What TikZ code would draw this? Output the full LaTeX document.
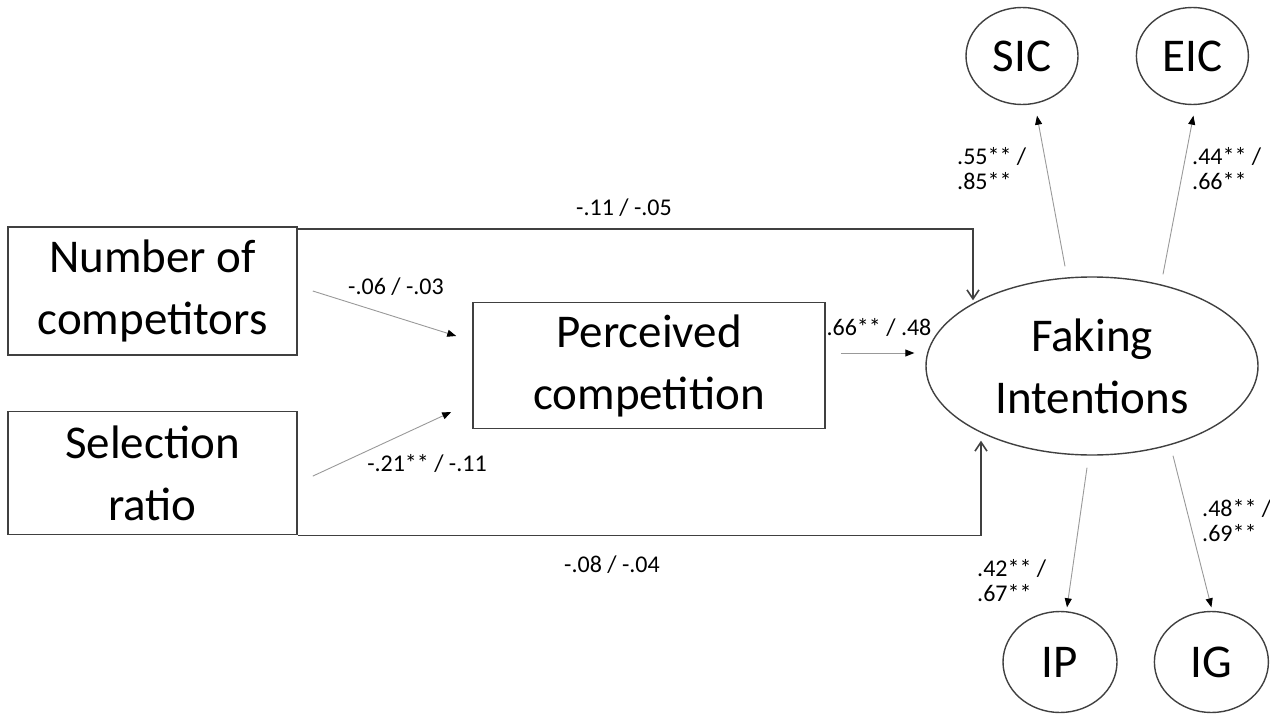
\documentclass[tikz,border=0pt]{standalone}
\usepackage{fontspec}
\setmainfont{Carlito}
\usetikzlibrary{arrows.meta,positioning,shapes.geometric}

\begin{document}
\begin{tikzpicture}[
  x=1pt, y=-1pt,
  big/.style={font=\fontsize{47}{62}\selectfont},
  lab/.style={font=\fontsize{24}{25}\selectfont, inner sep=0pt, align=left},
  box/.style={draw=black!75, line width=1.6pt, big, align=center, inner sep=0pt},
  lat/.style={ellipse, draw=black!75, line width=1.4pt, big, align=center, inner sep=0pt},
  path/.style={draw=black!40, line width=0.9pt, -{Triangle[length=9pt,width=7pt,black]}},
  elbow/.style={draw=black!75, line width=1.6pt, -{Straight Barb[length=9pt,width=12pt]}}
]
\useasboundingbox (0,0) rectangle (1270,717);
% observed variables
\node[box, minimum width=289pt, minimum height=128pt] (num) at (152.5,291) {Number of\\competitors};
\node[box, minimum width=289pt, minimum height=123pt, below=55pt of num] (sel) {Selection\\ratio};
\node[box, minimum width=352pt, minimum height=126pt] (perc) at (649,365.5) {Perceived\\competition};
% latent factor and its indicators
\node[lat, minimum width=332pt, minimum height=178pt] (fake) at (1092,366) {Faking\\Intentions};
\node[lat, minimum width=112pt, minimum height=97pt] (sic) at (1022,56) {SIC};
\node[lat, minimum width=112pt, minimum height=97pt, right=57pt of sic] (eic) {EIC};
\node[lat, minimum width=114pt, minimum height=101pt] (ip) at (1060,662) {IP};
\node[lat, minimum width=114pt, minimum height=101pt, right=36pt of ip] (ig) {IG};
% direct paths
\draw[elbow] ([shift={(0,3)}]num.north east) -| ([shift={(-119,24)}]fake.north);
\draw[elbow] (sel.south east) -| ([shift={(-111,-15)}]fake.south);
\draw[path] ([shift={(15,0)}]num.east) -- ([shift={(-16,-29.5)}]perc.west);
\draw[path] ([shift={(15,3)}]sel.east) -- ([shift={(-21,46.5)}]perc.west);
\draw[path] ([shift={(15,-12.5)}]perc.east) -- ([shift={(-11,-13)}]fake.west);
% loadings
\draw[path] ([shift={(-27,-10)}]fake.north) -- ([shift={(15,10.5)}]sic.south);
\draw[path] ([shift={(71,-2)}]fake.north) -- ([shift={(1,10.5)}]eic.south);
\draw[path] ([shift={(-5,12)}]fake.south) -- ([shift={(7,-3.5)}]ip.north);
\draw[path] ([shift={(81,0)}]fake.south) -- ([shift={(0,-3.5)}]ig.north);
% coefficients
\node[lab] (bnum) at (624,208) {-.11 / -.05};
\node[lab] (bsel) at (612,565) {-.08 / -.04};
\node[lab] (anum) at (396,287) {-.06 / -.03};
\node[lab] (asel) at (427,463) {-.21** / -.11};
\node[lab] (bperc) at (879,327) {.66** / .48};
\node[lab, anchor=west] (lsic) at (957,169) {.55** /\\.85**};
\node[lab, anchor=west] (leic) at (1192,169) {.44** /\\.66**};
\node[lab, anchor=west] (lip) at (977,581) {.42** /\\.67**};
\node[lab, anchor=west] (lig) at (1202,521) {.48** /\\.69**};
\end{tikzpicture}
\end{document}
